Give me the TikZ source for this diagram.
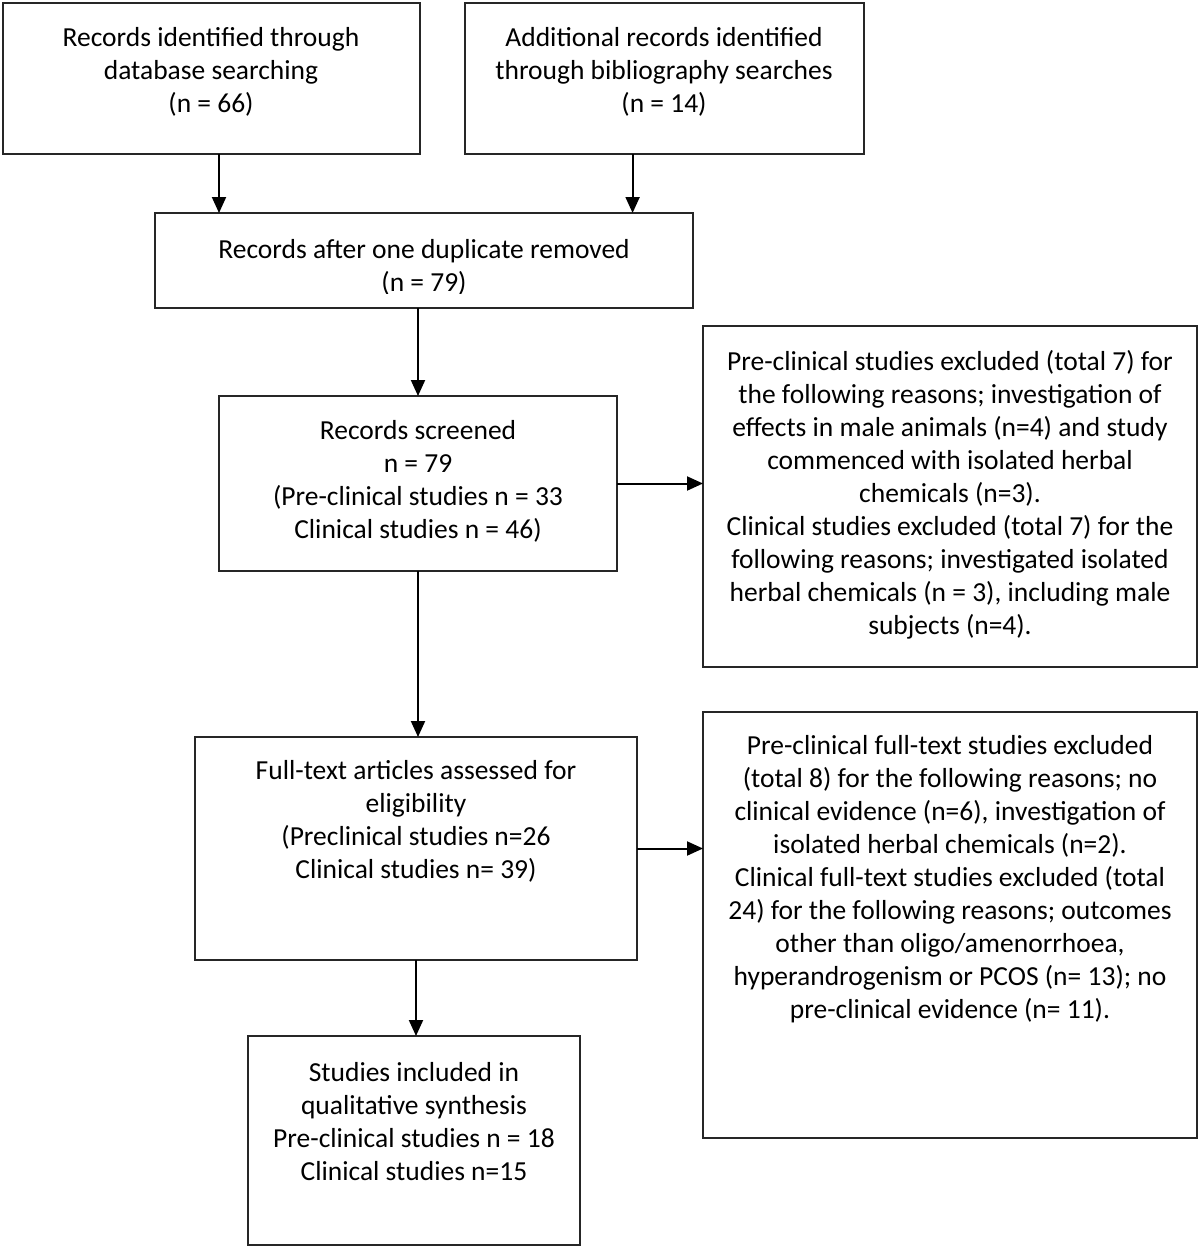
\documentclass[tikz,border=0pt]{standalone}
\usepackage{fontspec}
\setmainfont{Carlito}
\usetikzlibrary{arrows.meta,calc}
\begin{document}
\begin{tikzpicture}[x=1pt,y=-1pt,
  box/.style={draw=black!85, line width=2pt, inner sep=0pt, outer sep=0pt, anchor=north west},
  txt/.style={align=center, inner sep=0pt, font=\fontsize{27.5}{33}\selectfont},
  arr/.style={draw=black, line width=2pt, -{Triangle[length=16pt,width=14pt]}}]
\fill[white] (0,0) rectangle (1200,1248);
\useasboundingbox (0,0) rectangle (1200,1248);
% boxes
\node[box, minimum width=417pt, minimum height=151pt] (b1) at (3,3) {};
\node[box, minimum width=399pt, minimum height=151pt] (b2) at (465,3) {};
\node[box, minimum width=538pt, minimum height=95pt] (b3) at (155,213) {};
\node[box, minimum width=398pt, minimum height=175pt] (b4) at (219,396) {};
\node[box, minimum width=494pt, minimum height=341pt] (b5) at (703,326) {};
\node[box, minimum width=442pt, minimum height=223pt] (b6) at (195,737) {};
\node[box, minimum width=494pt, minimum height=426pt] (b7) at (703,712) {};
\node[box, minimum width=332pt, minimum height=209pt] (b8) at (248,1036) {};
% texts
\node[txt] (t1) at (211,72) {Records identified through\\database searching\\(n = 66)};
\node[txt] (t2) at (664,72) {Additional records identified\\through bibliography searches\\(n = 14)};
\begin{scope}
\clip (156,214) rectangle (692,293);
\node[txt] (t3) at (424,267) {Records after one duplicate removed\\(n = 79)};
\end{scope}
\node[txt] (t4) at (418,481) {Records screened\\n = 79\\(Pre-clinical studies n = 33\\Clinical studies n = 46)};
\node[txt] (t5) at (950,495) {Pre-clinical studies excluded (total 7) for\\the following reasons; investigation of\\effects in male animals (n=4) and study\\commenced with isolated herbal\\chemicals (n=3).\\Clinical studies excluded (total 7) for the\\following reasons; investigated isolated\\herbal chemicals (n = 3), including male\\subjects (n=4).};
\node[txt] (t6) at (416,821) {Full-text articles assessed for\\eligibility\\(Preclinical studies n=26\\Clinical studies n= 39)};
\node[txt] (t7) at (950,879) {Pre-clinical full-text studies excluded\\(total 8) for the following reasons; no\\clinical evidence (n=6), investigation of\\isolated herbal chemicals (n=2).\\Clinical full-text studies excluded (total\\24) for the following reasons; outcomes\\other than oligo/amenorrhoea,\\hyperandrogenism or PCOS (n= 13); no\\pre-clinical evidence (n= 11).};
\node[txt] (t8) at (414,1122) {Studies included in\\qualitative synthesis\\Pre-clinical studies n = 18\\Clinical studies n=15};
% connectors
\coordinate (a1) at ($(b1.south west)!0.518!(b1.south east)$);
\coordinate (a2) at ($(b2.south west)!0.42!(b2.south east)$);
\draw[arr] (a1) -- (a1 |- b3.north);
\draw[arr] (a2) -- (a2 |- b3.north);
\draw[arr] (b4.north |- b3.south) -- (b4.north);
\draw[arr] (b4.east) -- (b4.east -| b5.west);
\draw[arr] (b4.south) -- (b4.south |- b6.north);
\draw[arr] (b6.east) -- (b6.east -| b7.west);
\draw[arr] (b6.south) -- (b6.south |- b8.north);
\end{tikzpicture}
\end{document}
